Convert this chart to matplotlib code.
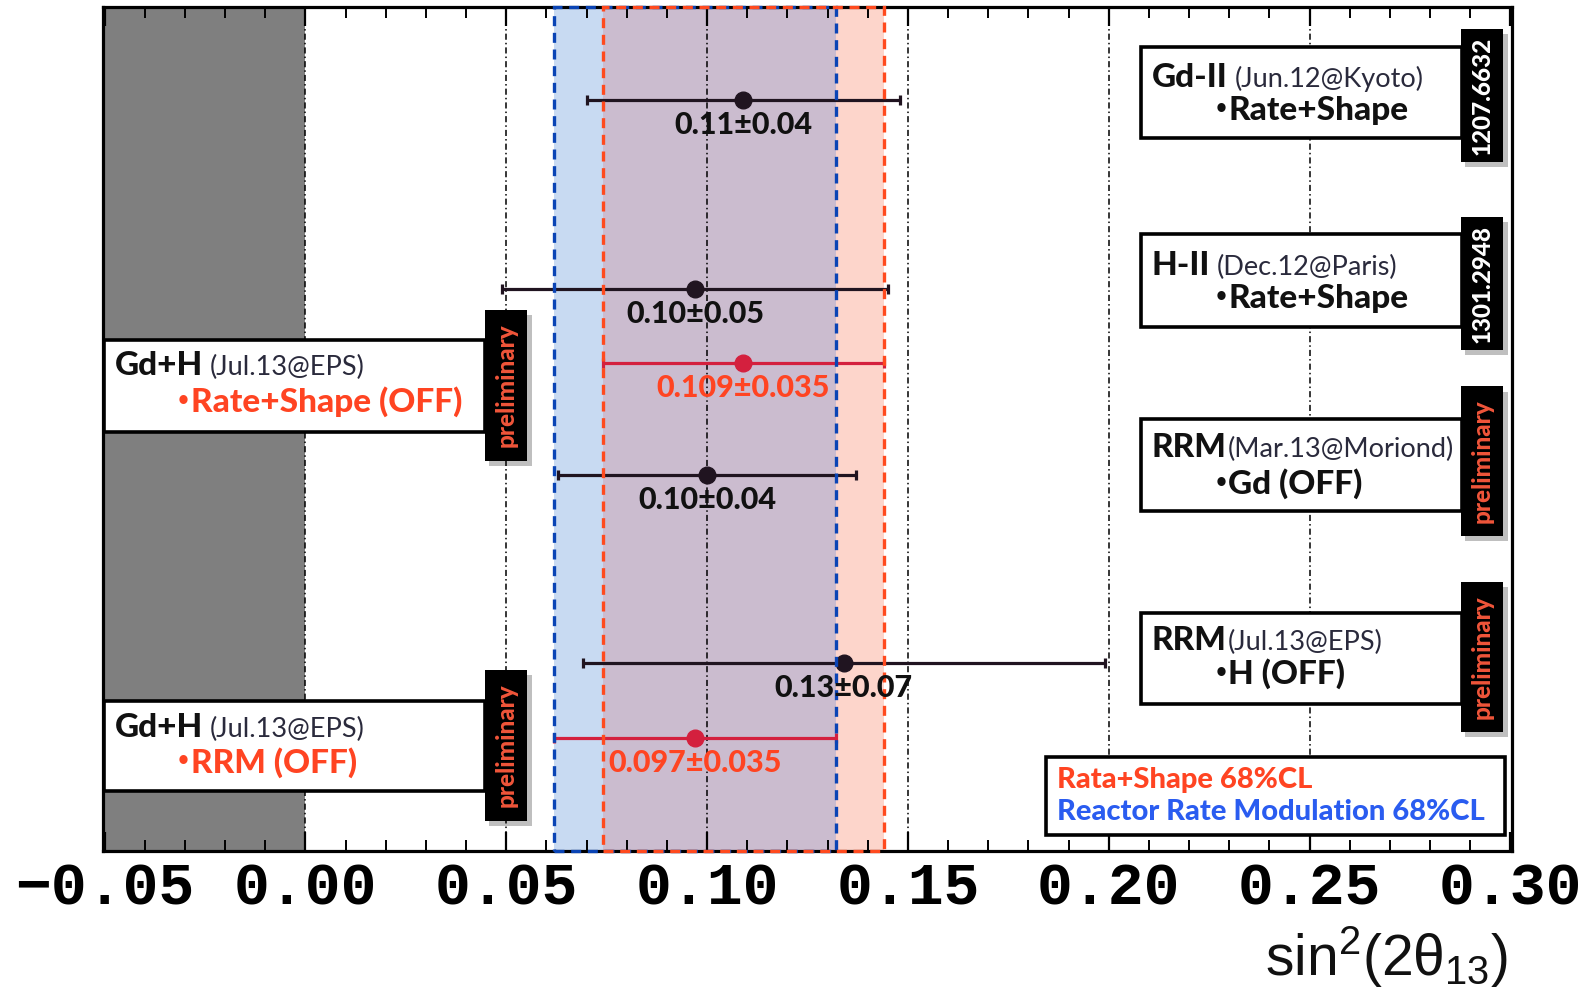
import matplotlib
matplotlib.use('Agg')
import matplotlib.pyplot as plt
from matplotlib.patches import Rectangle
from matplotlib.ticker import FixedLocator, MultipleLocator

plt.rcParams['font.family'] = ['Lato', 'DejaVu Sans']
plt.rcParams['mathtext.fontset'] = 'custom'
plt.rcParams['mathtext.rm'] = 'Liberation Sans'
plt.rcParams['mathtext.it'] = 'Liberation Sans'
plt.rcParams['mathtext.bf'] = 'Liberation Sans:bold'

# ---------------- data ----------------
measurements = ['Gd-II', 'H-II', 'Gd+H Rate+Shape', 'RRM Gd', 'RRM H', 'Gd+H RRM']
row_y = [0.93, 2.82, 3.56, 4.68, 6.56, 7.31]
centers = [0.109, 0.097, 0.109, 0.100, 0.134, 0.097]
err_lo = [0.039, 0.048, 0.035, 0.037, 0.065, 0.035]
err_hi = [0.039, 0.048, 0.035, 0.037, 0.065, 0.035]
value_labels = ['0.11±0.04', '0.10±0.05', '0.109±0.035', '0.10±0.04', '0.13±0.07', '0.097±0.035']
is_new = [False, False, True, False, False, True]

band_rs = (0.109, 0.035)    # Rate+Shape 68% CL
band_rrm = (0.097, 0.035)   # Reactor Rate Modulation 68% CL

xticks = [-0.05, 0.00, 0.05, 0.10, 0.15, 0.20, 0.25, 0.30]
xticklabels = ['\u22120.05', '0.00', '0.05', '0.10', '0.15', '0.20', '0.25', '0.30']

box_titles = ['Gd-II', 'H-II', 'RRM', 'RRM', 'Gd+H', 'Gd+H']
box_notes = ['(Jun.12@Kyoto)', '(Dec.12@Paris)', '(Mar.13@Moriond)', '(Jul.13@EPS)', '(Jul.13@EPS)', '(Jul.13@EPS)']
box_lines = ['Rate+Shape', 'Rate+Shape', 'Gd (OFF)', 'H (OFF)', 'Rate+Shape (OFF)', 'RRM (OFF)']
box_tags = ['1207.6632', '1301.2948', 'preliminary', 'preliminary', 'preliminary', 'preliminary']
legend_texts = ['Rata+Shape 68%CL', 'Reactor Rate Modulation 68%CL']

# ---------------- style ----------------
C_BLACK = '#201420'
C_RED = '#d4203e'
C_RED_TXT = '#ff4422'
C_BLUE_TXT = '#2a5cf0'
C_BAND_B = '#c8daf2'
C_BAND_R = '#fdd5cb'
C_BAND_O = '#cbbccf'
C_EDGE_B = '#0a44b5'
C_EDGE_R = '#ff4a1e'
C_NOTE = '#2a2a3c'
C_TAG_PRE = '#f0553a'
BOLD = 900

fig = plt.figure(figsize=(15.95, 9.98), dpi=100)
ax = fig.add_axes([0.0643, 0.1469, 0.8839, 0.8458])
xmin, xmax = -0.0505, 0.3005
ax.set_xlim(xmin, xmax)
ax.set_ylim(8.44, 0)

# unphysical region
ax.axvspan(xmin, 0.0, color='#7f7f7f', zorder=0, lw=0)

# bands
b_lo, b_hi = band_rrm[0] - band_rrm[1], band_rrm[0] + band_rrm[1]
r_lo, r_hi = band_rs[0] - band_rs[1], band_rs[0] + band_rs[1]
ax.axvspan(b_lo, b_hi, color=C_BAND_B, zorder=0.5, lw=0)
ax.axvspan(r_lo, r_hi, color=C_BAND_R, zorder=0.5, lw=0)
ax.axvspan(max(b_lo, r_lo), min(b_hi, r_hi), color=C_BAND_O, zorder=0.6, lw=0)

# grid lines
for t in xticks:
    if xmin + 0.002 < t < xmax - 0.002:
        ax.axvline(t, color='black', lw=1.1, ls=(0, (4, 2, 1, 2)), zorder=1)

# band outlines (dashed)
for lo, hi, col in [(b_lo, b_hi, C_EDGE_B), (r_lo, r_hi, C_EDGE_R)]:
    rect = Rectangle((lo, 0), hi - lo, 1, transform=ax.get_xaxis_transform(),
                     fill=False, edgecolor=col, lw=2.4, ls=(0, (3, 2)),
                     zorder=4, clip_on=False)
    ax.add_patch(rect)

# error bars
for i in range(len(centers)):
    col = C_RED if is_new[i] else C_BLACK
    ax.errorbar([centers[i]], [row_y[i]], xerr=[[err_lo[i]], [err_hi[i]]],
                fmt='o', color=col, ms=12, elinewidth=2.3, capsize=3.6,
                capthick=2.3, zorder=3)
    ax.annotate(value_labels[i], xy=(centers[i], row_y[i]), xytext=(0, -18),
                textcoords='offset points', ha='center', va='center',
                fontsize=22, fontweight=BOLD,
                color=C_RED_TXT if is_new[i] else '#111111', zorder=6)

# axes styling
for s in ax.spines.values():
    s.set_linewidth(2.3)
    s.set_zorder(3.5)
ax.xaxis.set_major_locator(FixedLocator(xticks))
ax.xaxis.set_minor_locator(MultipleLocator(0.01))
ax.set_xticklabels(xticklabels, family=['Liberation Mono', 'DejaVu Sans Mono'],
                   fontweight='bold', fontsize=43)
ax.tick_params(axis='x', which='major', direction='in', top=True, length=14, width=1.6, pad=7)
ax.tick_params(axis='x', which='minor', direction='in', top=True, length=8, width=1.4)
ax.set_yticks([])

ax.text(0.997, -0.1476, r'$\mathrm{sin}^2(2\theta_{13})$', transform=ax.transAxes,
        ha='right', va='baseline', fontsize=41, color='#111111')

# ---------------- annotation boxes ----------------
# layout: (box x0, x1, y_top, y_bottom, tag x0, x1, y_top, y_bottom, line1 x, y, line2 x, y)
layout = [
    (0.7368, 0.9641, 0.9533, 0.8455, 0.9634, 0.9936, 0.9743, 0.8163, 0.7442, 0.9171, 0.7879, 0.8783),
    (0.7368, 0.9641, 0.7311, 0.6216, 0.9634, 0.9936, 0.7512, 0.5940, 0.7442, 0.6939, 0.7879, 0.6553),
    (0.7368, 0.9641, 0.5121, 0.4036, 0.9634, 0.9936, 0.5508, 0.3733, 0.7442, 0.4783, 0.7879, 0.4353),
    (0.7368, 0.9641, 0.2830, 0.1744, 0.9634, 0.9936, 0.3187, 0.1414, 0.7442, 0.2499, 0.7879, 0.2102),
    (0.0011, 0.2713, 0.6059, 0.4972, 0.2713, 0.3013, 0.6418, 0.4629, 0.0087, 0.5762, 0.0521, 0.5328),
    (0.0011, 0.2713, 0.1782, 0.0716, 0.2713, 0.3013, 0.2145, 0.0365, 0.0087, 0.1462, 0.0521, 0.1057),
]
line2_colors = ['#111111', '#111111', '#111111', '#111111', C_RED_TXT, C_RED_TXT]
note_gap = [5, 5, 0.5, 0.5, 5, 5]

for i, L in enumerate(layout):
    bx0, bx1, byt, byb, tx0, tx1, tyt, tyb, l1x, l1y, l2x, l2y = L
    ax.add_patch(Rectangle((bx0, byb), bx1 - bx0, byt - byb, transform=ax.transAxes,
                           facecolor='white', edgecolor='black', lw=2.6, zorder=5,
                           clip_on=False))
    # tag shadow + tag
    ax.add_patch(Rectangle((tx0 + 0.003, tyb - 0.006), tx1 - tx0, tyt - tyb,
                           transform=ax.transAxes, facecolor='#000000', alpha=0.25,
                           lw=0, zorder=5.5, clip_on=False))
    ax.add_patch(Rectangle((tx0, tyb), tx1 - tx0, tyt - tyb, transform=ax.transAxes,
                           facecolor='black', edgecolor='black', lw=0, zorder=6,
                           clip_on=False))
    tag_col = C_TAG_PRE if box_tags[i] == 'preliminary' else 'white'
    ax.text((tx0 + tx1) / 2, (tyt + tyb) / 2, box_tags[i], transform=ax.transAxes,
            rotation=90, ha='center', va='center', fontsize=17.5, fontweight=BOLD,
            color=tag_col, zorder=7)
    t1 = ax.text(l1x, l1y, box_titles[i], transform=ax.transAxes, ha='left', va='center',
                 fontsize=24, fontweight=BOLD, color='#111111', zorder=7)
    ax.annotate(box_notes[i], xy=(1, 0), xycoords=t1, xytext=(note_gap[i], 0),
                textcoords='offset points', ha='left', va='bottom', fontsize=19.5,
                fontweight='normal', color=C_NOTE, zorder=7)
    b = ax.text(l2x, l2y, '\u2022', transform=ax.transAxes, ha='left', va='center',
                fontsize=17, family='DejaVu Sans', fontweight='bold',
                color=line2_colors[i], zorder=7)
    ax.annotate(box_lines[i], xy=(1, 0.5), xycoords=b, xytext=(0, 0),
                textcoords='offset points', ha='left', va='center',
                fontsize=24, fontweight=BOLD, color=line2_colors[i], zorder=7)

# legend box
ax.add_patch(Rectangle((0.669, 0.0193), 0.995 - 0.669, 0.112 - 0.0193, transform=ax.transAxes,
                       facecolor='white', edgecolor='black', lw=2.6, zorder=5, clip_on=False))
ax.text(0.677, 0.0848, legend_texts[0], transform=ax.transAxes, ha='left', va='center',
        fontsize=21, fontweight=BOLD, color=C_RED_TXT, zorder=7)
ax.text(0.677, 0.0464, legend_texts[1], transform=ax.transAxes, ha='left', va='center',
        fontsize=21, fontweight=BOLD, color=C_BLUE_TXT, zorder=7)

fig.savefig('out.png', dpi=100)
